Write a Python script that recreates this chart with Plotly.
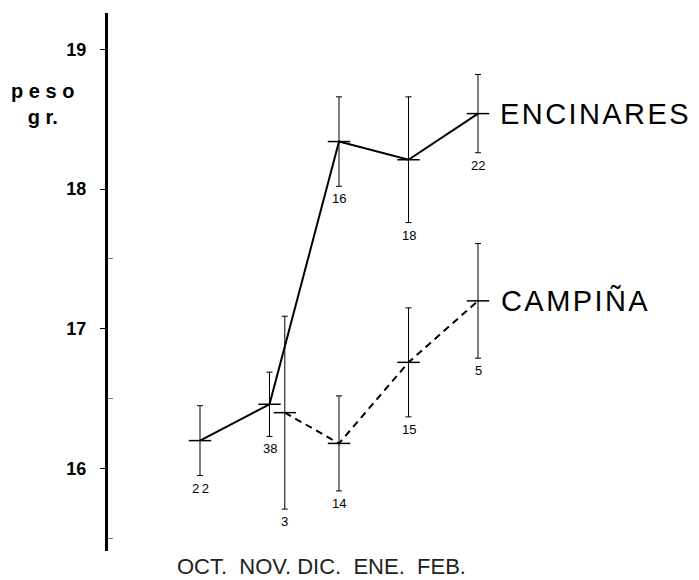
import plotly.graph_objects as go

# ---- data ----
month_labels = ["OCT.", "NOV.", "DIC.", "ENE.", "FEB."]
y_ticks = [16, 17, 18, 19]
y_minor = [15.5, 16.5, 17.5]

enc_x = [0, 1, 2, 3, 4]
enc_y = [16.20, 16.46, 18.34, 18.21, 18.54]
enc_err = [0.25, 0.23, 0.32, 0.45, 0.28]
enc_n = ["2\u20092", "38", "16", "18", "22"]

camp_x = [1.22, 2, 3, 4]
camp_y = [16.40, 16.18, 16.76, 17.20]
camp_err = [0.69, 0.34, 0.39, 0.41]
camp_n = ["3", "14", "15", "5"]

FONT = "Liberation Sans, Arial, sans-serif"

def spaced(s, sep="\u200a"):
    return sep.join(list(s))

fig = go.Figure()

fig.add_trace(go.Scatter(
    x=enc_x, y=enc_y, mode="lines+markers", name="ENCINARES",
    line=dict(color="black", width=2),
    marker=dict(symbol="line-ew", size=16, line=dict(color="black", width=1.5)),
    error_y=dict(type="data", array=enc_err, color="black", thickness=1, width=3),
))
fig.add_trace(go.Scatter(
    x=camp_x, y=camp_y, mode="lines+markers", name="CAMPIÑA",
    line=dict(color="black", width=2, dash="7px,5px"),
    marker=dict(symbol="line-ew", size=16, line=dict(color="black", width=1.5)),
    error_y=dict(type="data", array=camp_err, color="black", thickness=1, width=3),
))

annotations = []
# sample size labels below the error bars
for xs, ys, es, ns in [(enc_x, enc_y, enc_err, enc_n), (camp_x, camp_y, camp_err, camp_n)]:
    for x, y, e, n in zip(xs, ys, es, ns):
        annotations.append(dict(
            x=x, y=y - e, xref="x", yref="y", text=n, showarrow=False,
            xanchor="center", yanchor="top", yshift=-3,
            font=dict(family=FONT, size=13, color="black")))

annotations += [
    dict(x=enc_x[-1], y=enc_y[-1], xref="x", yref="y", xshift=20, xanchor="left",
         yanchor="middle", text=spaced("ENCINARES"), showarrow=False,
         font=dict(family=FONT, size=29, color="black")),
    dict(x=camp_x[-1], y=camp_y[-1], xref="x", yref="y", xshift=21, xanchor="left",
         yanchor="middle", text=spaced("CAMPIÑA"), showarrow=False,
         font=dict(family=FONT, size=29, color="black")),
    dict(x=-66 / 591, y=18.61, xref="paper", yref="y", xanchor="center", yanchor="middle",
         text="p e s o<br>g r.", showarrow=False,
         font=dict(family=FONT, size=20, color="black", weight="bold")),
    dict(x=-0.36, y=-0.028, xref="x", yref="paper", xanchor="left", yanchor="middle",
         text="OCT.\u00a0\u00a0NOV.\u00a0DIC.\u00a0\u00a0ENE.\u00a0\u00a0FEB.",
         showarrow=False, font=dict(family=FONT, size=22, color="#222")),
]

fig.update_layout(
    width=691, height=572,
    margin=dict(l=100, r=0, t=5, b=29),
    paper_bgcolor="white", plot_bgcolor="white",
    showlegend=False,
    annotations=annotations,
    xaxis=dict(range=[-1.324, 7.18], visible=False),
    yaxis=dict(
        range=[15.41, 19.26], showgrid=False, zeroline=False,
        showline=True, linecolor="black", linewidth=3,
        ticks="outside", ticklen=5, tickwidth=1, tickcolor="black",
        tickvals=y_ticks, ticktext=[str(t) for t in y_ticks],
        tickfont=dict(family=FONT, size=18, color="black", weight="bold"),
        ticklabelstandoff=10,
        minor=dict(tickvals=y_minor, ticks="inside", ticklen=5, tickcolor="#777", tickwidth=1),
    ),
)

fig.write_html("out.html")
